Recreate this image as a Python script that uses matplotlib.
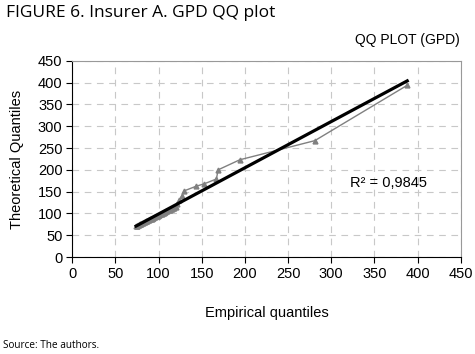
import numpy as np
import matplotlib
matplotlib.use("Agg")
import matplotlib.pyplot as plt

# empirical vs theoretical quantiles
empirical = [74, 75, 75, 76, 77, 78, 78, 79, 80, 81, 82, 83, 84, 85, 86, 87, 88,
             89, 90, 91, 92, 93, 94, 95, 96, 97, 98, 99, 100, 101, 102, 103, 104,
             105, 106, 107, 108, 109, 110, 112, 113, 114, 116, 117, 118, 120,
             121, 124, 127, 130, 143, 153, 167, 169, 194, 281, 388]
theoretical = [71, 72, 72, 73, 74, 75, 75, 76, 76.5, 77.5, 78.5, 79.5, 80.5, 81.5,
               82.5, 83.5, 84.5, 85.5, 86.5, 87.5, 88, 89, 90, 91, 92, 93, 94, 95,
               96, 97, 98, 99, 99.5, 100.5, 101.5, 102.5, 103.5, 104.5, 105.5,
               107.5, 108.5, 109.5, 111, 112, 113, 115, 122, 130, 141, 152, 162,
               168, 179, 200, 223, 267, 394]

r2_text = "R² = 0,9845"
ticks = [0, 50, 100, 150, 200, 250, 300, 350, 400, 450]

plt.rcParams['font.family'] = ['Liberation Sans', 'DejaVu Sans']

fig = plt.figure(figsize=(4.75, 3.54), dpi=100)
ax = fig.add_axes([0.152, 0.274, 0.818, 0.554])

x = np.array(empirical, dtype=float)
y = np.array(theoretical, dtype=float)
ax.plot(x, y, color='#808080', lw=1.0, marker='^', ms=3.5, zorder=3)

# linear trendline
slope, intercept = np.polyfit(x, y, 1)
xs = np.array([x.min(), x.max()])
ax.plot(xs, slope * xs + intercept, color='black', lw=2.3, zorder=4)

ax.set_xlim(0, 450)
ax.set_ylim(0, 450)
ax.set_xticks(ticks)
ax.set_yticks(ticks)
ax.tick_params(labelsize=10.5, direction='out', length=4, width=0.8, pad=3)
ax.grid(True, color='#c8c8c8', ls=(0, (6, 5)), lw=0.8)
ax.set_axisbelow(True)
for s in ['top', 'right']:
    ax.spines[s].set_color('#999999')
for s in ['left', 'bottom']:
    ax.spines[s].set_color('black')

ax.set_xlabel('Empirical quantiles', fontsize=10.5, labelpad=18)
ax.set_ylabel('Theoretical Quantiles', fontsize=10.5, labelpad=10)
ax.text(322, 160, r2_text, fontsize=10.5)

fig.text(0.012, 0.962, 'FIGURE 6. Insurer A. GPD QQ plot', fontsize=12.5,
         family='Open Sans', va='center', ha='left')
fig.text(0.968, 0.886, 'QQ PLOT (GPD)', fontsize=10, va='center', ha='right')
fig.text(0.006, 0.025, 'Source: The authors.', fontsize=7.2, family='Open Sans',
         va='center', ha='left')

fig.savefig('out.png', dpi=100)
